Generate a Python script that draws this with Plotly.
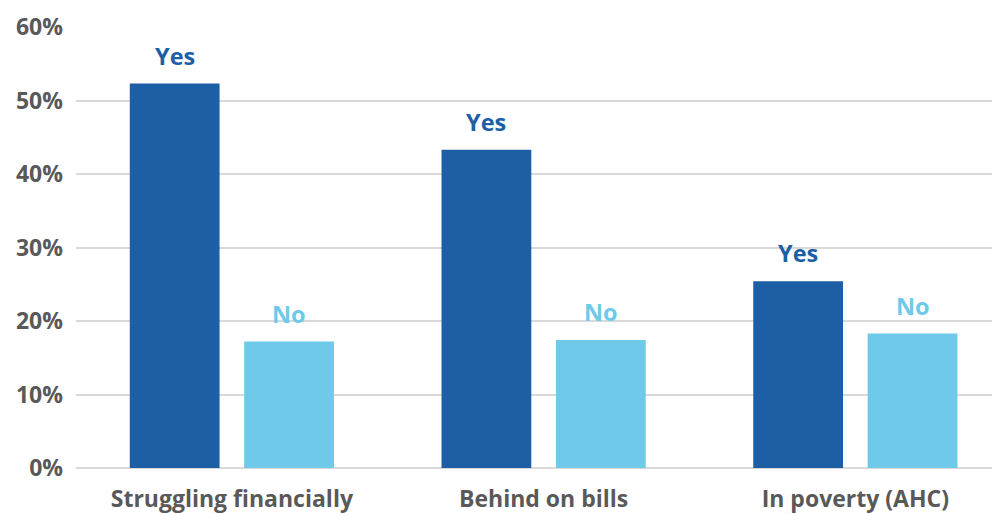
import plotly.graph_objects as go

categories = ["Struggling financially", "Behind on bills", "In poverty (AHC)"]
yes_values = [52.3, 43.3, 25.4]
no_values = [17.2, 17.4, 18.3]
series_names = ["Yes", "No"]
y_ticks = [0, 10, 20, 30, 40, 50, 60]
y_tick_labels = [f"{v}%" for v in y_ticks]

YES_COLOR = "#1C5FA5"
NO_COLOR = "#6FCAEA"
TEXT_GRAY = "#595959"
GRID = "#D9D9D9"
FONT = "Open Sans"

x_pos = list(range(len(categories)))
offset = 0.1835
bar_w = 0.288

fig = go.Figure()
fig.add_trace(go.Bar(x=x_pos, y=yes_values, name=series_names[0], marker_color=YES_COLOR,
                     width=bar_w, offset=-offset - bar_w / 2, marker_line_width=0))
fig.add_trace(go.Bar(x=x_pos, y=no_values, name=series_names[1], marker_color=NO_COLOR,
                     width=bar_w, offset=offset - bar_w / 2, marker_line_width=0))

for i in x_pos:
    for vals, sign, name, col in [(yes_values, -1, series_names[0], YES_COLOR),
                                  (no_values, 1, series_names[1], NO_COLOR)]:
        fig.add_annotation(x=i + sign * offset, y=vals[i], text=f"<b>{name}</b>",
                           showarrow=False, yanchor="bottom", yshift=10,
                           font=dict(family=FONT, size=23.5, color=col))

# page body has an 8px default margin, so the figure is sized to fit the window
fig.update_layout(
    width=992, height=505,
    margin=dict(l=68, r=0, t=19, b=45),
    plot_bgcolor="white", paper_bgcolor="white",
    showlegend=False,
    font=dict(family=FONT, color=TEXT_GRAY),
    xaxis=dict(range=[-0.5, 2.464], tickvals=x_pos,
               ticktext=[f"<b>{c}</b>" for c in categories],
               tickfont=dict(family=FONT, size=23, color=TEXT_GRAY),
               showgrid=False, zeroline=False, showline=False, ticks="",
               automargin=False, ticklabelstandoff=15),
    yaxis=dict(range=[0, 60], tickvals=y_ticks,
               ticktext=[f"<b>{t}</b>" for t in y_tick_labels],
               tickfont=dict(family=FONT, size=23, color=TEXT_GRAY),
               showgrid=True, gridcolor=GRID, gridwidth=2,
               zeroline=True, zerolinecolor=GRID, zerolinewidth=2,
               ticklabelstandoff=12, automargin=False),
)

fig.write_html("out.html")
